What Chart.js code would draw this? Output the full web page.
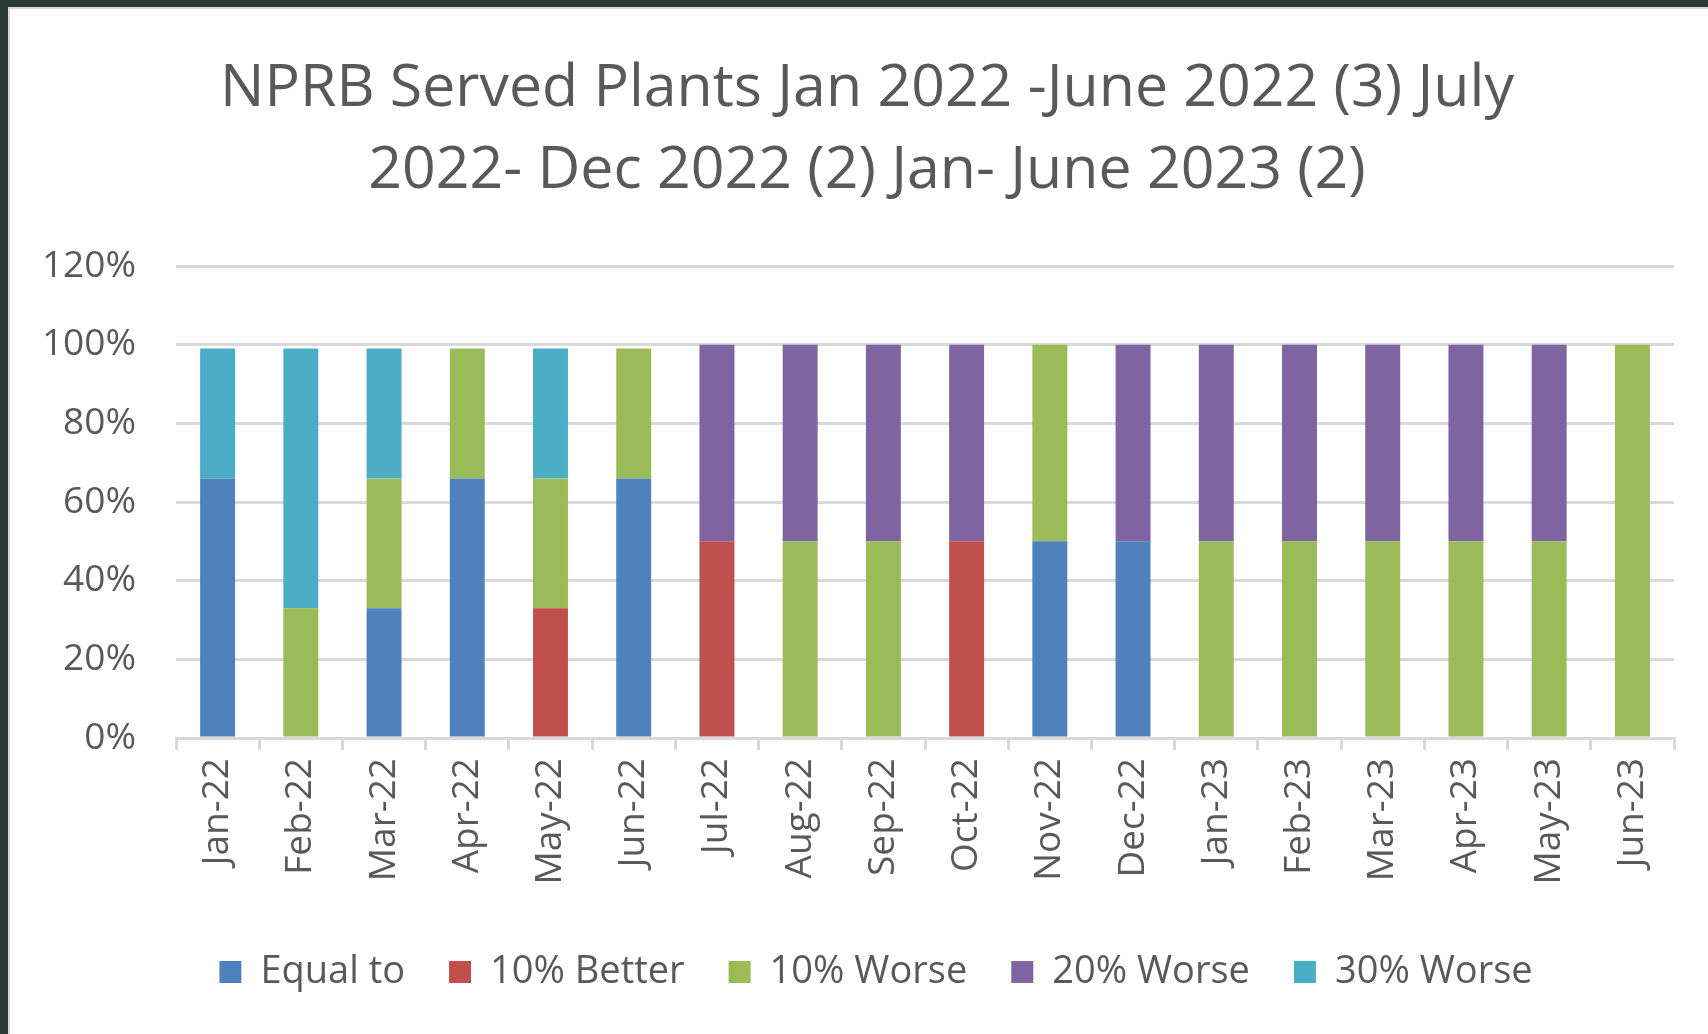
<!DOCTYPE html>
<html>
<head>
<meta charset="utf-8">
<script src="https://cdn.jsdelivr.net/npm/chart.js@4/dist/chart.umd.min.js"></script>
<style>
    html, body { margin: 0; padding: 0; background: #2b3a35; overflow: hidden; }
    #frame {
        position: absolute; left: 8px; top: 7px; width: 1700px; height: 1027px;
        background: #ffffff; box-sizing: border-box; border-left: 2px solid #d9d9d9; border-top: 2px solid #d9d9d9;
    }
    #chart { display: block; }
</style>
</head>
<body>
<div id="frame"><canvas id="chart" width="1698" height="1025"></canvas></div>
<script>
const months = ['Jan-22', 'Feb-22', 'Mar-22', 'Apr-22', 'May-22', 'Jun-22', 'Jul-22', 'Aug-22', 'Sep-22',
    'Oct-22', 'Nov-22', 'Dec-22', 'Jan-23', 'Feb-23', 'Mar-23', 'Apr-23', 'May-23', 'Jun-23'];

// percentages per month
const equalTo    = [66, 0, 33, 66, 0, 66, 0, 0, 0, 0, 50, 50, 0, 0, 0, 0, 0, 0];
const better10   = [0, 0, 0, 0, 33, 0, 50, 0, 0, 50, 0, 0, 0, 0, 0, 0, 0, 0];
const worse10    = [0, 33, 33, 33, 33, 33, 0, 50, 50, 0, 50, 0, 50, 50, 50, 50, 50, 100];
const worse20    = [0, 0, 0, 0, 0, 0, 50, 50, 50, 50, 0, 50, 50, 50, 50, 50, 50, 0];
const worse30    = [33, 66, 33, 0, 33, 0, 0, 0, 0, 0, 0, 0, 0, 0, 0, 0, 0, 0];

const yTicks = [0, 20, 40, 60, 80, 100, 120];

const textColor = '#595959';
const gridColor = '#d9d9d9';
const fontFamily = '"Open Sans", sans-serif';

const makeSet = function (label, data, color) {
    return {
        label: label,
        data: data,
        backgroundColor: color,
        borderWidth: 0,
        barPercentage: 0.42,
        categoryPercentage: 1.0
    };
};

// title and legend sit a bit right of the canvas centre in the original
const shiftBlocks = {
    id: 'shiftBlocks',
    afterLayout: function (chart) {
        chart.titleBlock.left += 25;
        chart.titleBlock.right += 25;
        chart.legend.left += 34;
        chart.legend.right += 34;
    }
};

new Chart(document.getElementById('chart'), {
    type: 'bar',
    data: {
        labels: months,
        datasets: [
            makeSet('Equal to', equalTo, '#4f81bd'),
            makeSet('10% Better', better10, '#c0504d'),
            makeSet('10% Worse', worse10, '#9bbb59'),
            makeSet('20% Worse', worse20, '#8064a2'),
            makeSet('30% Worse', worse30, '#4bacc6')
        ]
    },
    plugins: [shiftBlocks],
    options: {
        responsive: false,
        animation: false,
        layout: { padding: { left: 0, right: 34, top: 39, bottom: 33 } },
        plugins: {
            tooltip: { enabled: false },
            title: {
                display: true,
                text: ['NPRB Served Plants Jan 2022 -June 2022 (3) July', '2022- Dec 2022 (2) Jan- June 2023 (2)'],
                color: textColor,
                font: { family: fontFamily, size: 59, weight: 'normal', lineHeight: 1.39 },
                padding: { top: 0, bottom: 54 }
            },
            legend: {
                position: 'bottom',
                labels: {
                    color: textColor,
                    font: { family: fontFamily, size: 38 },
                    boxWidth: 22,
                    boxHeight: 22,
                    padding: 44
                }
            }
        },
        scales: {
            x: {
                stacked: true,
                offset: true,
                afterFit: function (scale) {
                    scale.height = 171;
                },
                grid: {
                    offset: true,
                    drawOnChartArea: false,
                    drawTicks: true,
                    tickLength: 12,
                    color: gridColor,
                    lineWidth: 3
                },
                border: { color: gridColor, width: 3 },
                ticks: {
                    color: textColor,
                    font: { family: fontFamily, size: 37 },
                    maxRotation: 90,
                    minRotation: 90,
                    autoSkip: false,
                    padding: 8
                }
            },
            y: {
                stacked: true,
                min: 0,
                max: 120,
                afterBuildTicks: function (scale) {
                    scale.ticks = yTicks.map(v => ({ value: v }));
                },
                afterFit: function (scale) {
                    scale.width = 166;
                },
                grid: { color: gridColor, lineWidth: 3, drawTicks: false },
                border: { display: false },
                ticks: {
                    color: textColor,
                    font: { family: fontFamily, size: 37 },
                    padding: 40,
                    callback: function (value) {
                        return value + '%';
                    }
                }
            }
        }
    }
});
</script>
</body>
</html>
